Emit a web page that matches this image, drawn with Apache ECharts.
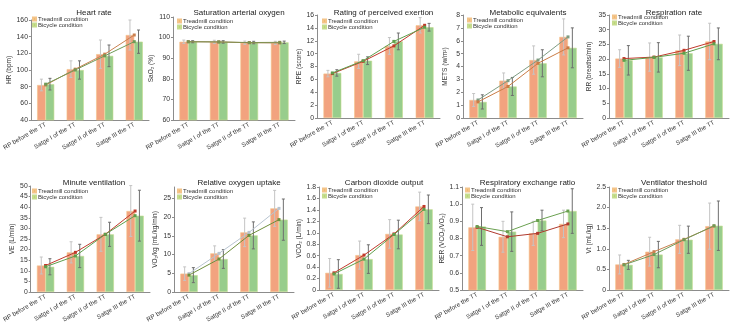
<!DOCTYPE html>
<html lang="en">
<head>
<meta charset="UTF-8">
<title>Treadmill vs bicycle condition</title>
<style>html,body{margin:0;padding:0;background:#fff}</style>
</head>
<body>
<div id="main" style="width:735px;height:327px"></div>
<script src="https://cdn.jsdelivr.net/npm/echarts@6/dist/echarts.min.js"></script>
<script>
var categories = ['RP before the TT', 'Satge I of the TT', 'Satge II of the TT', 'Satge III the TT'];

// heart rate
var hrTread = [82, 101, 119, 142];
var hrTreadSd = [7, 10, 17, 18];
var hrBike = [83, 100, 117, 134];
var hrBikeSd = [7, 11, 13, 14];
// saturation arterial oxygen
var saTread = [98, 97.9, 97.5, 97.4];
var saTreadSd = [0.8, 0.8, 0.8, 0.8];
var saBike = [98, 97.9, 97.6, 97.7];
var saBikeSd = [0.5, 0.6, 0.6, 0.6];
// rating of perceived exertion
var rpeTread = [6.9, 8.8, 11.2, 14.4];
var rpeTreadSd = [0.5, 1.1, 1.3, 1.2];
var rpeBike = [7.0, 8.9, 11.9, 14.1];
var rpeBikeSd = [0.5, 0.6, 1.3, 0.6];
// metabolic equivalents
var metTread = [1.4, 2.9, 4.5, 6.3];
var metTreadSd = [0.5, 0.6, 1.1, 1.4];
var metBike = [1.25, 2.45, 4.25, 5.45];
var metBikeSd = [0.55, 0.7, 1.05, 1.55];
// respiration rate
var rrTread = [20.2, 20.7, 23, 26];
var rrTreadSd = [3, 4.8, 5.2, 6.2];
var rrBike = [19.6, 20.6, 22, 25.2];
var rrBikeSd = [5, 5, 5.8, 5.4];
// minute ventilation
var veTread = [12.5, 18.7, 27.2, 38.2];
var veTreadSd = [4, 5, 8, 12];
var veBike = [11.9, 17, 27.2, 36];
var veBikeSd = [3.8, 5.5, 5.7, 12];
// relative oxygen uptake
var voTread = [4.9, 10.3, 15.9, 22.3];
var voTreadSd = [1.8, 2, 3.8, 4.8];
var voBike = [4.5, 8.8, 15.1, 19.3];
var voBikeSd = [2, 2.5, 3.6, 5.5];
// carbon dioxide output
var vcoTread = [0.30, 0.61, 0.98, 1.46];
var vcoTreadSd = [0.25, 0.245, 0.25, 0.25];
var vcoBike = [0.28, 0.54, 0.97, 1.41];
var vcoBikeSd = [0.25, 0.25, 0.25, 0.25];
// respiratory exchange ratio
var rerTread = [0.865, 0.81, 0.83, 0.885];
var rerTreadSd = [0.135, 0.09, 0.07, 0.08];
var rerBike = [0.87, 0.84, 0.905, 0.96];
var rerBikeSd = [0.11, 0.115, 0.06, 0.13];
// ventilator theshold
var vtTread = [0.62, 0.93, 1.23, 1.55];
var vtTreadSd = [0.23, 0.35, 0.34, 0.56];
var vtBike = [0.61, 0.86, 1.22, 1.56];
var vtBikeSd = [0.11, 0.32, 0.33, 0.6];

var RED = '#c0392b', GRN = '#5e9f4c', BRN = '#c98050', OLV = '#6f9a57';

// box = [left, top, width, height], leg = [left, top]
var panels = [
    { title: 'Heart rate', name: 'HR (bpm)', min: 40, max: 160, step: 20, dec: 0, t: hrTread, ts: hrTreadSd, b: hrBike, bs: hrBikeSd,
      box: [29, 20, 120, 100], gap: 16, leg: [32, 16], lines: [BRN, OLV] },
    { title: 'Saturation arterial oxygen', name: 'SaO\u2082 (%)', min: 60, max: 110, step: 10, dec: 0, t: saTread, ts: saTreadSd, b: saBike, bs: saBikeSd,
      box: [173, 17, 122, 103], gap: 14, leg: [177, 18], lines: ['#a0804f', '#7f8f4f'] },
    { title: 'Rating of perceived exertion', name: 'RPE (score)', min: 0, max: 16, step: 2, dec: 0, t: rpeTread, ts: rpeTreadSd, b: rpeBike, bs: rpeBikeSd,
      box: [317, 15, 123, 103], gap: 13, leg: [322, 18], lines: [RED, GRN] },
    { title: 'Metabolic equivalents', name: 'METS (w/m\u00b2)', min: 0, max: 8, step: 1, dec: 0, t: metTread, ts: metTreadSd, b: metBike, bs: metBikeSd,
      box: [463, 15, 120, 103], gap: 14, leg: [467, 17], lines: ['#7e9c82', '#c97c45'] },
    { title: 'Respiration rate', name: 'RR (breaths/min)', min: 0, max: 35, step: 5, dec: 0, t: rrTread, ts: rrTreadSd, b: rrBike, bs: rrBikeSd,
      box: [609, 15, 120, 103], gap: 16, leg: [612, 14], lines: [RED, GRN] },
    { title: 'Minute ventilation', name: 'VE (L/min)', min: 0, max: 50, step: 5, dec: 0, t: veTread, ts: veTreadSd, b: veBike, bs: veBikeSd,
      box: [28, 186, 122, 106], gap: 15, leg: [32, 188], lines: [RED, GRN] },
    { title: 'Relative oxygen uptake', name: 'VO\u2082/kg (mL/kg/min)', min: 0, max: 28, step: 5, dec: 0, t: voTread, ts: voTreadSd, b: voBike, bs: voBikeSd,
      box: [174, 187, 120, 105], gap: 15, leg: [177, 188], lines: ['#b8c4d0', '#6e8f3c'] },
    { title: 'Carbon dioxide output', name: 'VCO\u2082 (L/min)', min: 0, max: 1.8, step: 0.2, dec: 1, t: vcoTread, ts: vcoTreadSd, b: vcoBike, bs: vcoBikeSd,
      box: [319, 187, 120, 103], gap: 13, leg: [322, 187], lines: [RED, GRN] },
    { title: 'Respiratory exchange ratio', name: 'RER (VCO\u2082/VO\u2082)', min: 0.5, max: 1.1, step: 0.1, dec: 1, t: rerTread, ts: rerTreadSd, b: rerBike, bs: rerBikeSd,
      box: [462, 187, 121, 103], gap: 15, leg: [465, 187], lines: ['#b03a2e', '#6aa050'] },
    { title: 'Ventilator theshold', name: 'Vt (mL/kg)', min: 0, max: 2.5, step: 0.5, dec: 1, t: vtTread, ts: vtTreadSd, b: vtBike, bs: vtBikeSd,
      box: [609, 187, 120, 103], gap: 12, leg: [612, 187], lines: [BRN, OLV] }
];

var FONT = '"Liberation Sans", Arial, sans-serif';

function errorBars(offset, color) {
    return function (params, api) {
        var idx = api.value(0), mean = api.value(1), sd = api.value(2);
        var band = api.size([1, 0])[0];
        var x = api.coord([idx, mean])[0] + offset * band;
        var hi = api.coord([idx, mean + sd])[1];
        var lo = api.coord([idx, mean - sd])[1];
        var style = { stroke: color, lineWidth: 1 };
        return {
            type: 'group',
            children: [
                { type: 'line', shape: { x1: x, y1: hi, x2: x, y2: lo }, style: style },
                { type: 'line', shape: { x1: x - 1.5, y1: hi, x2: x + 1.5, y2: hi }, style: style },
                { type: 'line', shape: { x1: x - 1.5, y1: lo, x2: x + 1.5, y2: lo }, style: style }
            ]
        };
    };
}

function withSd(vals, sds) {
    return vals.map(function (v, i) { return [i, v, sds[i]]; });
}

var option = {
    animation: false,
    textStyle: { fontFamily: FONT },
    title: [], legend: [], grid: [], xAxis: [], yAxis: [], series: []
};

panels.forEach(function (p, i) {
    var bx = p.box;
    var onStep = Math.abs(p.max / p.step - Math.round(p.max / p.step)) < 1e-6;
    option.grid.push({ left: bx[0], top: bx[1], width: bx[2], height: bx[3] });
    option.title.push({
        text: p.title, left: bx[0] + bx[2] / 2, top: bx[1] < 100 ? 4 : 174, textAlign: 'center',
        textStyle: { fontSize: 8, fontWeight: 'normal', color: '#222', fontFamily: FONT }
    });
    option.legend.push({
        left: p.leg[0], top: p.leg[1], orient: 'vertical', itemGap: 0, itemWidth: 3, itemHeight: 3,
        icon: 'rect', selectedMode: false, padding: 0,
        textStyle: { fontSize: 6, lineHeight: 6, color: '#333', padding: [0, 0, 0, -3] },
        data: [
            { name: 'Treadmill condition', itemStyle: { color: '#f0b050' } },
            { name: 'Bicycle condition', itemStyle: { color: '#b0d060' } }
        ]
    });
    option.xAxis.push({
        gridIndex: i, type: 'category', data: categories,
        axisLine: { lineStyle: { color: '#8c8c8c', width: 1 } },
        axisTick: { show: false },
        axisLabel: { rotate: 30, interval: 0, fontSize: 6.3, color: '#333', margin: 4 }
    });
    option.yAxis.push({
        gridIndex: i, type: 'value', min: p.min, max: p.max, interval: p.step,
        name: p.name, nameLocation: 'middle', nameGap: p.gap,
        nameTextStyle: { fontSize: 6.5, color: '#333' },
        axisLine: { show: true, lineStyle: { color: '#8c8c8c', width: 1 } },
        axisTick: { show: true, length: 2, lineStyle: { color: '#8c8c8c' } },
        splitLine: { show: false },
        axisLabel: {
            fontSize: 6.8, color: '#333', margin: 3, showMaxLabel: onStep,
            formatter: function (v) { return v === 0 ? '0' : v.toFixed(p.dec); }
        }
    });
    option.series.push(
        { name: 'Treadmill condition', type: 'bar', xAxisIndex: i, yAxisIndex: i, data: p.t,
          barWidth: '29%', barGap: '0%', clip: true,
          itemStyle: { color: '#f2a37f', borderColor: '#f3c48a', borderWidth: 0.6 } },
        { name: 'Bicycle condition', type: 'bar', xAxisIndex: i, yAxisIndex: i, data: p.b,
          barWidth: '29%', barGap: '0%', clip: true,
          itemStyle: { color: '#98cd8c', borderColor: '#c6dc8e', borderWidth: 0.6 } },
        { name: 'tread-sd', type: 'custom', xAxisIndex: i, yAxisIndex: i, data: withSd(p.t, p.ts),
          encode: { x: 0, y: 1 }, renderItem: errorBars(-0.145, '#c4c4c4'), z: 3 },
        { name: 'bike-sd', type: 'custom', xAxisIndex: i, yAxisIndex: i, data: withSd(p.b, p.bs),
          encode: { x: 0, y: 1 }, renderItem: errorBars(0.145, '#6e6e6e'), z: 3 },
        { name: 'tread-line', type: 'line', xAxisIndex: i, yAxisIndex: i, data: p.t, z: 4,
          symbol: 'rect', symbolSize: 3, color: p.lines[0], lineStyle: { width: 1, color: p.lines[0] } },
        { name: 'bike-line', type: 'line', xAxisIndex: i, yAxisIndex: i, data: p.b, z: 4,
          symbol: 'rect', symbolSize: 3, color: p.lines[1], lineStyle: { width: 1, color: p.lines[1] } }
    );
});

var myChart = echarts.init(document.getElementById('main'));
myChart.setOption(option);
</script>
</body>
</html>
